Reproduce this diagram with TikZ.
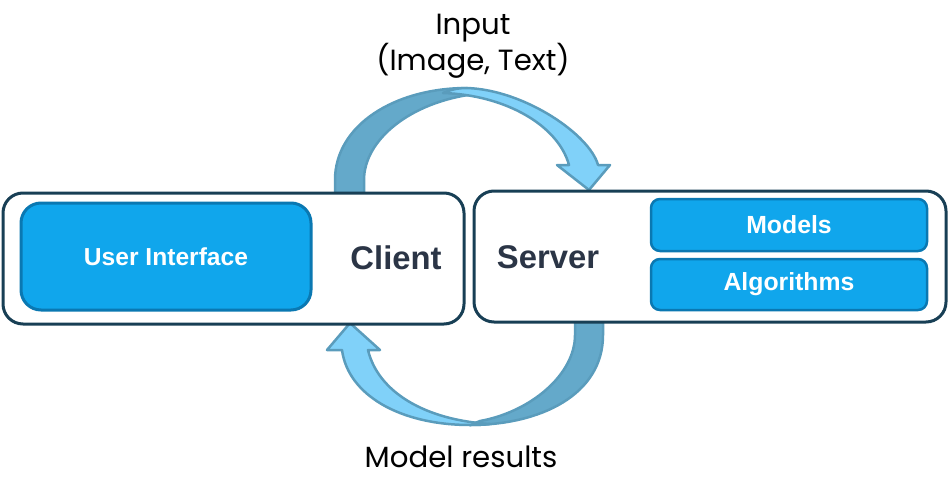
\documentclass[tikz,border=0pt]{standalone}
\usepackage{fontspec}
\setmainfont{Liberation Sans}
\newfontfamily\labelfont{Poppins}
\definecolor{boxline}{HTML}{183F55}
\definecolor{uifill}{HTML}{10A6EC}
\definecolor{uiline}{HTML}{0A78B2}
\definecolor{titletext}{HTML}{2B3546}
\definecolor{arrowback}{HTML}{64A9CA}
\definecolor{arrowfront}{HTML}{80D1F9}
\definecolor{arrowline}{HTML}{5A9CBC}
\begin{document}
\begin{tikzpicture}[x=1pt,y=-1pt,
  outerbox/.style={draw=boxline,line width=3pt,fill=white,rounded corners=20pt,inner sep=0pt},
  uibox/.style={draw=uiline,line width=3pt,fill=uifill,rounded corners=20pt,inner sep=0pt,
    text=white,font=\bfseries\fontsize{24.6}{28}\selectfont},
  partbox/.style={draw=uiline,line width=2.5pt,fill=uifill,rounded corners=9pt,inner sep=0pt,
    text=white,font=\bfseries\fontsize{24.8}{28}\selectfont},
  boxtitle/.style={text=titletext,font=\bfseries\fontsize{32.8}{36}\selectfont,inner sep=0pt},
  flowlabel/.style={text=black,font=\labelfont\fontsize{29.2}{36}\selectfont,align=center,inner sep=0pt},
  backband/.style={fill=arrowback,draw=arrowline,line width=2.5pt,line join=round},
  frontband/.style={fill=arrowfront,draw=arrowline,line width=2.5pt,line join=round}]
\useasboundingbox (0,0) rectangle (949,492);

% request arrow: client -> server
\draw[backband] (335,193) -- (335,180) .. controls (335,125) and (395,88) .. (467,88)
  -- (475,94) .. controls (410,102) and (364,140) .. (364,180) -- (364,193) -- cycle;
\draw[frontband] (598,165) -- (610,165) -- (589,190) -- (557,165) -- (569,165)
  .. controls (558,125) and (505,95) .. (443,93)
  .. controls (452,89) and (460,88) .. (467,88)
  .. controls (525,90) and (590,135) .. (598,165) -- cycle;

% response arrow: server -> client
\draw[backband] (603,322) -- (603,335) .. controls (603,395) and (540,425) .. (470,425)
  -- (480,421) .. controls (530,412) and (575,375) .. (575,335) -- (575,322) -- cycle;
\draw[frontband] (342,350) -- (327,350) -- (350,323) -- (380,350) -- (368,350)
  .. controls (378,392) and (425,420) .. (490,424)
  .. controls (480,425) and (475,425) .. (470,425)
  .. controls (400,425) and (348,395) .. (342,350) -- cycle;

% client side
\node[outerbox,minimum width=461pt,minimum height=131pt] (client) at (233.5,258.5) {};
\node[uibox,minimum width=290pt,minimum height=107pt] (ui) at (166,256.5) {User Interface};
\node[boxtitle] (clientlabel) at (396,258) {Client};

% server side
\node[outerbox,minimum width=472pt,minimum height=131pt] (server) at (710,256.5) {};
\node[partbox,minimum width=276pt,minimum height=52pt] (models) at (789,225) {Models};
\node[partbox,minimum width=276pt,minimum height=51pt] (algorithms) at (789,284.5) {Algorithms};
\node[boxtitle] (serverlabel) at (548,257) {Server};

% flow labels
\node[flowlabel] (inputlabel) at (473,46) {Input\\(Image, Text)};
\node[flowlabel] (resultlabel) at (461,457) {Model results};
\end{tikzpicture}
\end{document}
